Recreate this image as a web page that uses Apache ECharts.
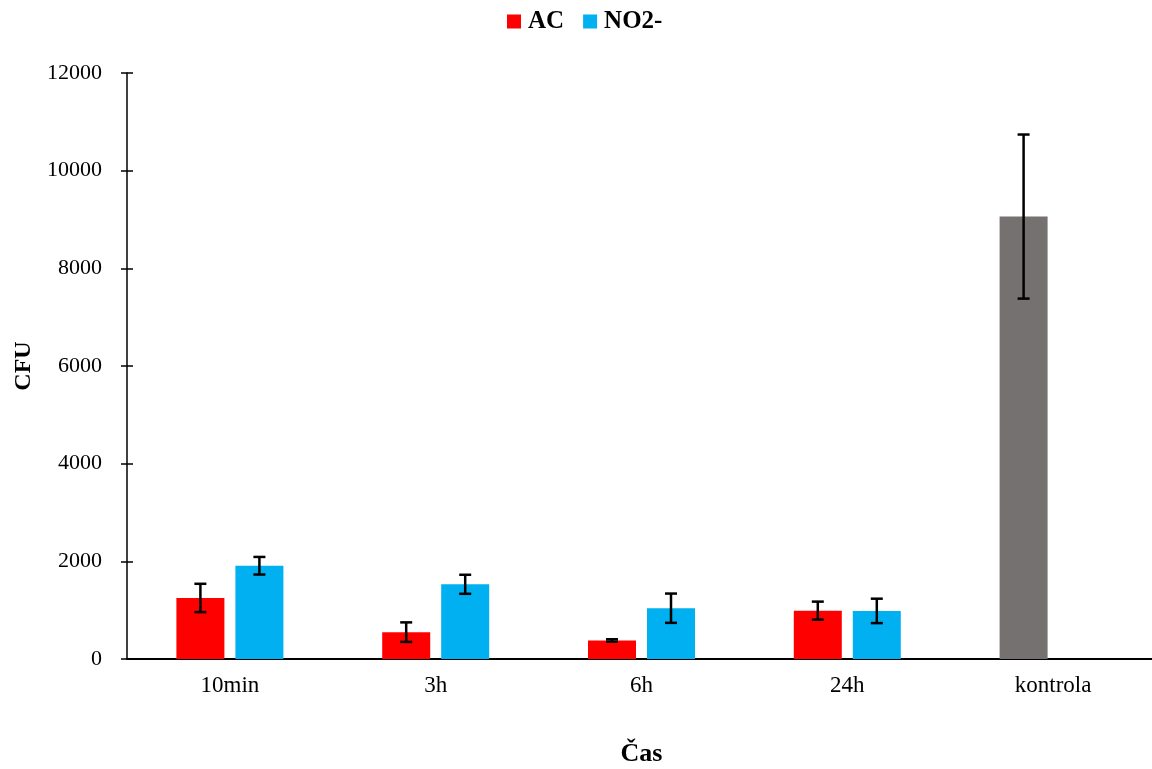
<!DOCTYPE html>
<html>
<head>
<meta charset="utf-8">
<script src="https://cdn.jsdelivr.net/npm/echarts@6/dist/echarts.min.js"></script>
<style>html,body{margin:0;padding:0;background:#fff}#c{width:1152px;height:769px}</style>
</head>
<body>
<div id="c"></div>
<script>
const categories = ['10min', '3h', '6h', '24h', 'kontrola'];
const acValues = [1250, 550, 380, 990, 9060];
const acErrors = [290, 200, 25, 185, 1680];
const no2Values = [1910, 1530, 1040, 985, null];
const no2Errors = [180, 195, 300, 250, null];
const yTicks = [0, 2000, 4000, 6000, 8000, 10000, 12000];

const FONT = '"Liberation Serif", "Times New Roman", serif';
const BAR_W = 48, GAP = 11;
const OFF = (BAR_W + GAP) / 2;

function errSeries(values, errors, dx) {
  const data = values.map((v, i) => (v == null ? null : [i, v, errors[i]])).filter(d => d);
  return {
    type: 'custom',
    xAxisIndex: 0, yAxisIndex: 0,
    silent: true,
    z: 10,
    data: data,
    renderItem: function (params, api) {
      const i = api.value(0), v = api.value(1), e = api.value(2);
      const top = api.coord([i, v + e]);
      const bot = api.coord([i, v - e]);
      const x = top[0] + dx;
      const cap = 6;
      const st = { stroke: '#000', lineWidth: 2.5 };
      return {
        type: 'group',
        children: [
          { type: 'line', shape: { x1: x, y1: top[1], x2: x, y2: bot[1] }, style: st },
          { type: 'line', shape: { x1: x - cap, y1: top[1], x2: x + cap, y2: top[1] }, style: st },
          { type: 'line', shape: { x1: x - cap, y1: bot[1], x2: x + cap, y2: bot[1] }, style: st }
        ]
      };
    }
  };
}

const chart = echarts.init(document.getElementById('c'), null, { renderer: 'canvas' });
chart.setOption({
  animation: false,
  backgroundColor: '#fff',
  textStyle: { fontFamily: FONT },
  legend: {
    top: 4,
    left: 502,
    itemWidth: 14,
    itemHeight: 14,
    itemGap: 19,
    icon: 'rect',
    data: ['AC', 'NO2-'],
    textStyle: { fontFamily: FONT, fontWeight: 'bold', fontSize: 25, color: '#000', padding: [0, 0, 0, 2] }
  },
  grid: { left: 127, right: -4, top: 73, bottom: 110, containLabel: false, outerBoundsMode: 'none' },
  xAxis: {
    type: 'category',
    data: categories,
    axisLine: { lineStyle: { color: '#000', width: 2 } },
    axisTick: { show: false },
    axisLabel: { color: '#000', fontSize: 23, fontFamily: FONT, margin: 15 },
    name: 'Čas',
    nameLocation: 'middle',
    nameGap: 82,
    nameTextStyle: { color: '#000', fontWeight: 'bold', fontSize: 26, fontFamily: FONT }
  },
  yAxis: [{
    type: 'value',
    min: 0, max: 12000, interval: 2000,
    splitLine: { show: false },
    axisLine: { show: true, lineStyle: { color: '#000', width: 1.5 } },
    axisTick: { show: true, length: 6, lineStyle: { color: '#000', width: 1.5 } },
    axisLabel: { color: '#000', fontSize: 22, fontFamily: FONT, margin: 25,
      formatter: v => (yTicks.indexOf(v) >= 0 ? String(v) : '') },
    name: 'CFU',
    nameLocation: 'middle',
    nameGap: 91,
    nameTextStyle: { color: '#000', fontWeight: 'bold', fontSize: 24, fontFamily: FONT }
  }, {
    type: 'value',
    min: 0, max: 12000, interval: 2000,
    position: 'left',
    splitLine: { show: false },
    axisLine: { show: false },
    axisTick: { show: true, inside: true, length: 6, lineStyle: { color: '#000', width: 1.5 } },
    axisLabel: { show: false }
  }],
  series: [
    {
      name: 'AC', type: 'bar', barWidth: BAR_W, barGap: (GAP / BAR_W * 100) + '%',
      itemStyle: { color: '#FF0000' },
      data: acValues.map((v, i) => (categories[i] === 'kontrola' ? { value: v, itemStyle: { color: '#767171' } } : v))
    },
    {
      name: 'NO2-', type: 'bar', barWidth: BAR_W,
      itemStyle: { color: '#00B0F0' },
      data: no2Values
    },
    errSeries(acValues, acErrors, -OFF),
    errSeries(no2Values, no2Errors, OFF)
  ]
});
</script>
</body>
</html>
